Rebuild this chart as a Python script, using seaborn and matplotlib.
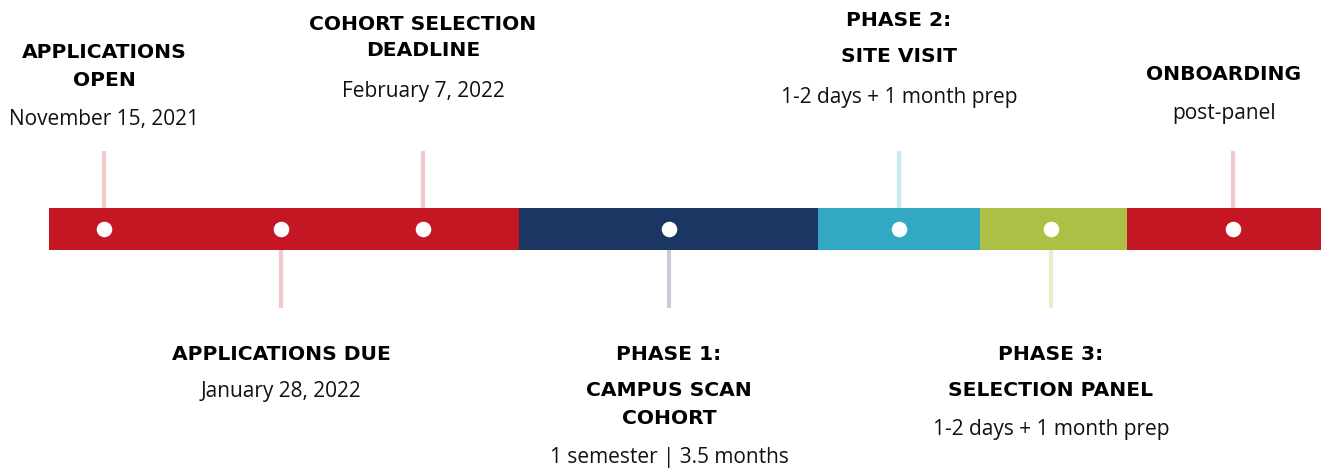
import matplotlib
matplotlib.use("Agg")
import matplotlib.pyplot as plt
import seaborn as sns
import pandas as pd

# timeline segments (in pixel-like timeline units)
segment_start = [49, 519, 818, 980, 1127]
segment_end = [519, 818, 980, 1127, 1321]
segment_color = ["#c41623", "#1c3664", "#32a8c3", "#adc046", "#c41623"]

# milestones
milestone_x = [104, 281, 423, 669, 899, 1051, 1233]
milestone_side = ["up", "down", "up", "down", "up", "down", "up"]
stem_color = ["#f2c9cd", "#f2c9cd", "#f2c9cd", "#c6ccdb", "#cbe8f0", "#e9efcd", "#f2c9cd"]

titles = [["APPLICATIONS", "OPEN"],
          ["APPLICATIONS DUE"],
          ["COHORT SELECTION", "DEADLINE"],
          ["PHASE 1:", "CAMPUS SCAN", "COHORT"],
          ["PHASE 2:", "SITE VISIT"],
          ["PHASE 3:", "SELECTION PANEL"],
          ["ONBOARDING"]]
subtitles = ["November 15, 2021", "January 28, 2022", "February 7, 2022",
             "1 semester | 3.5 months", "1-2 days + 1 month prep",
             "1-2 days + 1 month prep", "post-panel"]

# label layout
label_x = [104, 281, 423, 669, 899, 1051, 1224]
title_y = [[52, 80], [354], [24, 51], [354, 391, 418], [20, 57], [354, 391], [74]]
sub_y = [119, 391, 91, 457, 97, 430, 113]

W, H = 1321, 469
bar_top, bar_bot = 208, 250
bar_mid = (bar_top + bar_bot) / 2

sns.set_theme(style="white")
fig = plt.figure(figsize=(W / 100, H / 100), dpi=100)
ax = fig.add_axes([0, 0, 1, 1])

# stems
for x, side, c in zip(milestone_x, milestone_side, stem_color):
    if side == "up":
        ax.vlines(x, 151, bar_top, color=c, lw=3, zorder=1)
    else:
        ax.vlines(x, bar_bot, 308, color=c, lw=3, zorder=1)

# timeline bar
for s, e, c in zip(segment_start, segment_end, segment_color):
    ax.barh(bar_mid, e - s, left=s, height=bar_bot - bar_top, color=c, zorder=2, linewidth=0)

dots = pd.DataFrame({"x": milestone_x, "y": [bar_mid] * len(milestone_x)})
sns.scatterplot(data=dots, x="x", y="y", ax=ax, color="white", s=125,
                marker="o", linewidth=0, zorder=3)
ax.set_xlim(0, W)
ax.set_ylim(H, 0)
ax.axis("off")

for x, lines, ys, sub, sy in zip(label_x, titles, title_y, subtitles, sub_y):
    for line, y in zip(lines, ys):
        ax.text(x, y, line, ha="center", va="center", fontsize=14.6,
                fontweight="bold", family="DejaVu Sans", color="#000000")
    ax.text(x, sy, sub, ha="center", va="center", fontsize=15,
            family="Open Sans", color="#111111")

fig.savefig("out.png", dpi=100)
